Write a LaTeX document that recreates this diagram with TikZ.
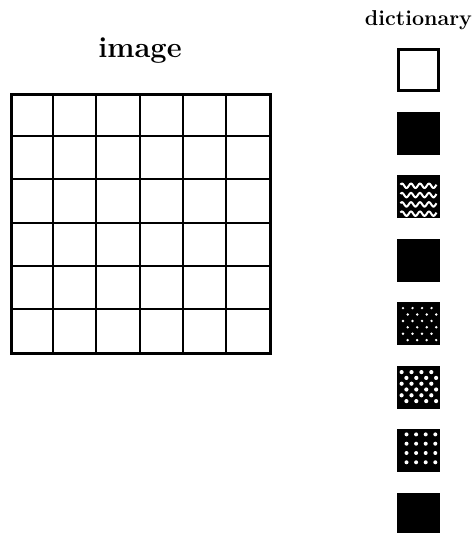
\documentclass[tikz,border=0pt]{standalone}
\usetikzlibrary{calc}
\begin{document}
\begin{tikzpicture}[x=1pt,y=-1pt]
\tikzset{
  titlelbl/.style={font=\bfseries\fontsize{29}{31}\selectfont, anchor=base, inner sep=0pt},
  dictlbl/.style={font=\bfseries\fontsize{21.5}{23}\selectfont, anchor=base, inner sep=0pt},
  tile/.style={draw=black, fill=black, line width=1pt, minimum size=42pt, inner sep=0pt, anchor=center},
  emptytile/.style={draw=black, fill=white, line width=2.8pt, minimum size=40.5pt, inner sep=0pt, anchor=center},
  gridframe/.style={draw=black, line width=3pt, minimum size=259pt, inner sep=0pt, anchor=north west},
  gridline/.style={draw=black, line width=2pt},
  wave/.style={draw=white, line width=2pt},
}
\useasboundingbox (0,0) rectangle (476,533);
\clip (0,0) rectangle (476,533);
% title and grid
\node[titlelbl] (title) at (140,57) {image};
\node[gridframe] (grid) at (10,93) {};
\foreach \i in {1,...,5} {
  \draw[gridline] ($(grid.north west)+(\i*43.1667,0)$) -- ($(grid.south west)+(\i*43.1667,0)$);
  \draw[gridline] ($(grid.north west)+(0,\i*43.1667)$) -- ($(grid.north east)+(0,\i*43.1667)$);
}
% dictionary
\node[dictlbl] (dict) at (418.5,25) {dictionary};
\node[emptytile] (t1) at (418.5,70) {};
\node[tile] (t2) at (418.5,133.4) {};
\node[tile] (t3) at (418.5,196.8) {};
\node[tile] (t4) at (418.5,260.2) {};
\node[tile] (t5) at (418.5,323.6) {};
\node[tile] (t6) at (418.5,387) {};
\node[tile] (t7) at (418.5,450.4) {};
\node[tile] (t8) at (418.5,514.6) {};
% waves in t3
\foreach \r in {0,...,3} {
  \draw[wave] plot[domain=3:39, samples=80] ({\x+397.5}, {185.8+\r*9.3+2.2*sin(\x*40+90)});
}
% fine dots in t5
\foreach \j in {0,...,5} {
  \pgfmathsetmacro{\off}{mod(\j,2)==0 ? 6 : 10.7}
  \foreach \i in {0,...,3} {
    \fill[white] ($(t5.north west)+(\off+\i*9.5,6+\j*6.4)$) circle (1.35pt);
  }
}
% larger staggered dots in t6
\foreach \j in {0,...,5} {
  \pgfmathsetmacro{\off}{mod(\j,2)==0 ? 4.6 : 9.4}
  \foreach \i in {0,...,3} {
    \fill[white] ($(t6.north west)+(\off+\i*9.9,6.6+\j*5.8)$) circle (2.1pt);
  }
}
% square grid of dots in t7
\foreach \j in {0,...,3} {
  \foreach \i in {0,...,3} {
    \fill[white] ($(t7.north west)+(9.5+\i*9.6,5.5+\j*9.3)$) circle (2pt);
  }
}
\end{tikzpicture}
\end{document}
